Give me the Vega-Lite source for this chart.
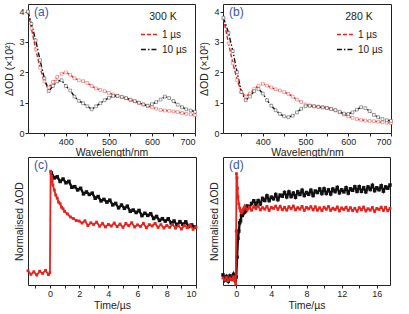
{
"$schema":"https://vega.github.io/schema/vega-lite/v6.json",
"padding":{"left":4,"top":3,"right":0,"bottom":0},
"columns":2,
"spacing":{"row":24,"column":27},
"bounds":"flush",
"resolve":{"scale":{"color":"independent","strokeDash":"independent","x":"independent","y":"independent"},"legend":{"color":"independent","strokeDash":"independent"}},
"config":{
 "font":"Liberation Sans",
 "view":{"stroke":"#222222","strokeWidth":1},
 "axis":{"grid":false,"domain":false,"tickColor":"#222222","tickSize":3,"labelFontSize":9,"labelColor":"#222222","labelPadding":1,"titleFontSize":10.5,"titleFontWeight":"normal","titleColor":"#222222"},
 "title":{"fontSize":12,"fontWeight":"normal","color":"#3a55a5","anchor":"start","frame":"group","offset":-15,"dx":6},
 "legend":{"titleFontSize":10.5,"titleFontWeight":"normal","titleColor":"#222222","titleAnchor":"middle","labelFontSize":10,"labelColor":"#222222","symbolType":"stroke","symbolSize":260,"symbolStrokeWidth":1.6,"rowPadding":1,"titlePadding":3,"padding":0,"orient":"top-right","offset":8}
},
"datasets":{
"spec":[
{"p":"a","s":"1 µs","w":312,"v":3.98},{"p":"a","s":"1 µs","w":320,"v":3.45},{"p":"a","s":"1 µs","w":330,"v":2.75},{"p":"a","s":"1 µs","w":340,"v":2.15},{"p":"a","s":"1 µs","w":350,"v":1.7},{"p":"a","s":"1 µs","w":360,"v":1.5},{"p":"a","s":"1 µs","w":370,"v":1.68},{"p":"a","s":"1 µs","w":380,"v":1.85},{"p":"a","s":"1 µs","w":390,"v":1.95},{"p":"a","s":"1 µs","w":400,"v":2.0},{"p":"a","s":"1 µs","w":410,"v":1.92},{"p":"a","s":"1 µs","w":420,"v":1.8},{"p":"a","s":"1 µs","w":430,"v":1.74},{"p":"a","s":"1 µs","w":440,"v":1.71},{"p":"a","s":"1 µs","w":450,"v":1.65},{"p":"a","s":"1 µs","w":460,"v":1.55},{"p":"a","s":"1 µs","w":470,"v":1.47},{"p":"a","s":"1 µs","w":480,"v":1.42},{"p":"a","s":"1 µs","w":490,"v":1.38},{"p":"a","s":"1 µs","w":500,"v":1.32},{"p":"a","s":"1 µs","w":510,"v":1.27},{"p":"a","s":"1 µs","w":520,"v":1.22},{"p":"a","s":"1 µs","w":530,"v":1.18},{"p":"a","s":"1 µs","w":540,"v":1.14},{"p":"a","s":"1 µs","w":550,"v":1.09},{"p":"a","s":"1 µs","w":560,"v":1.04},{"p":"a","s":"1 µs","w":570,"v":0.99},{"p":"a","s":"1 µs","w":580,"v":0.94},{"p":"a","s":"1 µs","w":590,"v":0.89},{"p":"a","s":"1 µs","w":600,"v":0.85},{"p":"a","s":"1 µs","w":610,"v":0.8},{"p":"a","s":"1 µs","w":620,"v":0.76},{"p":"a","s":"1 µs","w":630,"v":0.74},{"p":"a","s":"1 µs","w":640,"v":0.73},{"p":"a","s":"1 µs","w":650,"v":0.71},{"p":"a","s":"1 µs","w":660,"v":0.69},{"p":"a","s":"1 µs","w":670,"v":0.66},{"p":"a","s":"1 µs","w":680,"v":0.63},{"p":"a","s":"1 µs","w":690,"v":0.61},{"p":"a","s":"1 µs","w":700,"v":0.59},
{"p":"a","s":"10 µs","w":312,"v":4.0},{"p":"a","s":"10 µs","w":320,"v":3.6},{"p":"a","s":"10 µs","w":330,"v":3.05},{"p":"a","s":"10 µs","w":340,"v":2.4},{"p":"a","s":"10 µs","w":350,"v":1.8},{"p":"a","s":"10 µs","w":360,"v":1.38},{"p":"a","s":"10 µs","w":370,"v":1.55},{"p":"a","s":"10 µs","w":380,"v":1.7},{"p":"a","s":"10 µs","w":390,"v":1.74},{"p":"a","s":"10 µs","w":400,"v":1.55},{"p":"a","s":"10 µs","w":410,"v":1.4},{"p":"a","s":"10 µs","w":420,"v":1.2},{"p":"a","s":"10 µs","w":430,"v":1.06},{"p":"a","s":"10 µs","w":440,"v":0.98},{"p":"a","s":"10 µs","w":450,"v":0.88},{"p":"a","s":"10 µs","w":460,"v":0.78},{"p":"a","s":"10 µs","w":470,"v":0.88},{"p":"a","s":"10 µs","w":480,"v":0.98},{"p":"a","s":"10 µs","w":490,"v":1.08},{"p":"a","s":"10 µs","w":500,"v":1.16},{"p":"a","s":"10 µs","w":510,"v":1.22},{"p":"a","s":"10 µs","w":520,"v":1.22},{"p":"a","s":"10 µs","w":530,"v":1.19},{"p":"a","s":"10 µs","w":540,"v":1.15},{"p":"a","s":"10 µs","w":550,"v":1.1},{"p":"a","s":"10 µs","w":560,"v":1.05},{"p":"a","s":"10 µs","w":570,"v":1.0},{"p":"a","s":"10 µs","w":580,"v":0.94},{"p":"a","s":"10 µs","w":590,"v":0.9},{"p":"a","s":"10 µs","w":600,"v":0.95},{"p":"a","s":"10 µs","w":610,"v":1.02},{"p":"a","s":"10 µs","w":620,"v":1.1},{"p":"a","s":"10 µs","w":630,"v":1.2},{"p":"a","s":"10 µs","w":640,"v":1.15},{"p":"a","s":"10 µs","w":650,"v":1.05},{"p":"a","s":"10 µs","w":660,"v":0.93},{"p":"a","s":"10 µs","w":670,"v":0.85},{"p":"a","s":"10 µs","w":680,"v":0.78},{"p":"a","s":"10 µs","w":690,"v":0.74},{"p":"a","s":"10 µs","w":700,"v":0.7},
{"p":"b","s":"1 µs","w":308,"v":3.78},{"p":"b","s":"1 µs","w":320,"v":2.95},{"p":"b","s":"1 µs","w":330,"v":2.3},{"p":"b","s":"1 µs","w":340,"v":1.75},{"p":"b","s":"1 µs","w":350,"v":1.35},{"p":"b","s":"1 µs","w":360,"v":1.2},{"p":"b","s":"1 µs","w":370,"v":1.3},{"p":"b","s":"1 µs","w":380,"v":1.45},{"p":"b","s":"1 µs","w":390,"v":1.56},{"p":"b","s":"1 µs","w":400,"v":1.62},{"p":"b","s":"1 µs","w":410,"v":1.56},{"p":"b","s":"1 µs","w":420,"v":1.5},{"p":"b","s":"1 µs","w":430,"v":1.44},{"p":"b","s":"1 µs","w":440,"v":1.4},{"p":"b","s":"1 µs","w":450,"v":1.35},{"p":"b","s":"1 µs","w":460,"v":1.29},{"p":"b","s":"1 µs","w":470,"v":1.2},{"p":"b","s":"1 µs","w":480,"v":1.1},{"p":"b","s":"1 µs","w":490,"v":1.02},{"p":"b","s":"1 µs","w":500,"v":0.94},{"p":"b","s":"1 µs","w":510,"v":0.9},{"p":"b","s":"1 µs","w":520,"v":0.88},{"p":"b","s":"1 µs","w":530,"v":0.87},{"p":"b","s":"1 µs","w":540,"v":0.85},{"p":"b","s":"1 µs","w":550,"v":0.83},{"p":"b","s":"1 µs","w":560,"v":0.8},{"p":"b","s":"1 µs","w":570,"v":0.75},{"p":"b","s":"1 µs","w":580,"v":0.68},{"p":"b","s":"1 µs","w":590,"v":0.61},{"p":"b","s":"1 µs","w":600,"v":0.55},{"p":"b","s":"1 µs","w":610,"v":0.5},{"p":"b","s":"1 µs","w":620,"v":0.46},{"p":"b","s":"1 µs","w":630,"v":0.43},{"p":"b","s":"1 µs","w":640,"v":0.41},{"p":"b","s":"1 µs","w":650,"v":0.4},{"p":"b","s":"1 µs","w":660,"v":0.39},{"p":"b","s":"1 µs","w":670,"v":0.37},{"p":"b","s":"1 µs","w":680,"v":0.35},{"p":"b","s":"1 µs","w":690,"v":0.34},{"p":"b","s":"1 µs","w":700,"v":0.33},
{"p":"b","s":"10 µs","w":308,"v":3.8},{"p":"b","s":"10 µs","w":320,"v":3.3},{"p":"b","s":"10 µs","w":330,"v":2.7},{"p":"b","s":"10 µs","w":340,"v":2.0},{"p":"b","s":"10 µs","w":350,"v":1.35},{"p":"b","s":"10 µs","w":360,"v":1.08},{"p":"b","s":"10 µs","w":370,"v":1.2},{"p":"b","s":"10 µs","w":380,"v":1.38},{"p":"b","s":"10 µs","w":390,"v":1.45},{"p":"b","s":"10 µs","w":400,"v":1.3},{"p":"b","s":"10 µs","w":410,"v":1.08},{"p":"b","s":"10 µs","w":420,"v":0.9},{"p":"b","s":"10 µs","w":430,"v":0.75},{"p":"b","s":"10 µs","w":440,"v":0.63},{"p":"b","s":"10 µs","w":450,"v":0.55},{"p":"b","s":"10 µs","w":460,"v":0.52},{"p":"b","s":"10 µs","w":470,"v":0.57},{"p":"b","s":"10 µs","w":480,"v":0.68},{"p":"b","s":"10 µs","w":490,"v":0.8},{"p":"b","s":"10 µs","w":500,"v":0.88},{"p":"b","s":"10 µs","w":510,"v":0.9},{"p":"b","s":"10 µs","w":520,"v":0.88},{"p":"b","s":"10 µs","w":530,"v":0.86},{"p":"b","s":"10 µs","w":540,"v":0.84},{"p":"b","s":"10 µs","w":550,"v":0.82},{"p":"b","s":"10 µs","w":560,"v":0.79},{"p":"b","s":"10 µs","w":570,"v":0.75},{"p":"b","s":"10 µs","w":580,"v":0.7},{"p":"b","s":"10 µs","w":590,"v":0.64},{"p":"b","s":"10 µs","w":600,"v":0.63},{"p":"b","s":"10 µs","w":610,"v":0.68},{"p":"b","s":"10 µs","w":620,"v":0.77},{"p":"b","s":"10 µs","w":630,"v":0.85},{"p":"b","s":"10 µs","w":640,"v":0.82},{"p":"b","s":"10 µs","w":650,"v":0.72},{"p":"b","s":"10 µs","w":660,"v":0.6},{"p":"b","s":"10 µs","w":670,"v":0.52},{"p":"b","s":"10 µs","w":680,"v":0.46},{"p":"b","s":"10 µs","w":690,"v":0.42},{"p":"b","s":"10 µs","w":700,"v":0.4}
],
"kc":[
{"s":"k","t":0.1,"v":0.983},{"s":"k","t":0.3,"v":0.934},{"s":"k","t":0.5,"v":0.945},{"s":"k","t":0.7,"v":0.899},{"s":"k","t":0.9,"v":0.923},{"s":"k","t":1.1,"v":0.886},{"s":"k","t":1.3,"v":0.9},{"s":"k","t":1.5,"v":0.842},{"s":"k","t":1.7,"v":0.848},{"s":"k","t":1.9,"v":0.816},{"s":"k","t":2.1,"v":0.832},{"s":"k","t":2.3,"v":0.777},{"s":"k","t":2.5,"v":0.796},{"s":"k","t":2.7,"v":0.771},{"s":"k","t":2.9,"v":0.784},{"s":"k","t":3.1,"v":0.734},{"s":"k","t":3.3,"v":0.751},{"s":"k","t":3.5,"v":0.708},{"s":"k","t":3.7,"v":0.723},{"s":"k","t":3.9,"v":0.696},{"s":"k","t":4.1,"v":0.715},{"s":"k","t":4.3,"v":0.669},{"s":"k","t":4.5,"v":0.683},{"s":"k","t":4.7,"v":0.64},{"s":"k","t":4.9,"v":0.667},{"s":"k","t":5.1,"v":0.635},{"s":"k","t":5.3,"v":0.656},{"s":"k","t":5.5,"v":0.605},{"s":"k","t":5.7,"v":0.618},{"s":"k","t":5.9,"v":0.593},{"s":"k","t":6.1,"v":0.614},{"s":"k","t":6.3,"v":0.563},{"s":"k","t":6.5,"v":0.586},{"s":"k","t":6.7,"v":0.565},{"s":"k","t":6.9,"v":0.582},{"s":"k","t":7.1,"v":0.535},{"s":"k","t":7.3,"v":0.555},{"s":"k","t":7.5,"v":0.515},{"s":"k","t":7.7,"v":0.533},{"s":"k","t":7.9,"v":0.509},{"s":"k","t":8.1,"v":0.532},{"s":"k","t":8.3,"v":0.491},{"s":"k","t":8.5,"v":0.51},{"s":"k","t":8.7,"v":0.472},{"s":"k","t":8.9,"v":0.504},{"s":"k","t":9.1,"v":0.477},{"s":"k","t":9.3,"v":0.502},{"s":"k","t":9.5,"v":0.455},{"s":"k","t":9.7,"v":0.472},{"s":"k","t":9.9,"v":0.451},
{"s":"r","t":-1.5,"v":0.02},{"s":"r","t":-1.3,"v":-0.015},{"s":"r","t":-1.1,"v":0.01},{"s":"r","t":-0.9,"v":-0.022},{"s":"r","t":-0.7,"v":0.016},{"s":"r","t":-0.5,"v":-0.006},{"s":"r","t":-0.3,"v":0.024},{"s":"r","t":-0.1,"v":-0.018},{"s":"r","t":0.0,"v":0.0},{"s":"r","t":0.05,"v":1.0},{"s":"r","t":0.1,"v":0.95},{"s":"r","t":0.15,"v":0.905},{"s":"r","t":0.2,"v":0.865},{"s":"r","t":0.3,"v":0.815},{"s":"r","t":0.4,"v":0.765},{"s":"r","t":0.5,"v":0.735},{"s":"r","t":0.6,"v":0.695},{"s":"r","t":0.7,"v":0.68},{"s":"r","t":0.8,"v":0.645},{"s":"r","t":0.9,"v":0.63},{"s":"r","t":1.0,"v":0.605},{"s":"r","t":1.2,"v":0.58},{"s":"r","t":1.4,"v":0.55},{"s":"r","t":1.6,"v":0.535},{"s":"r","t":1.8,"v":0.515},{"s":"r","t":2.0,"v":0.51},{"s":"r","t":2.2,"v":0.49},{"s":"r","t":2.4,"v":0.512},{"s":"r","t":2.6,"v":0.465},{"s":"r","t":2.8,"v":0.492},{"s":"r","t":3.0,"v":0.476},{"s":"r","t":3.2,"v":0.499},{"s":"r","t":3.4,"v":0.459},{"s":"r","t":3.6,"v":0.485},{"s":"r","t":3.8,"v":0.452},{"s":"r","t":4.0,"v":0.477},{"s":"r","t":4.2,"v":0.46},{"s":"r","t":4.4,"v":0.49},{"s":"r","t":4.6,"v":0.455},{"s":"r","t":4.8,"v":0.48},{"s":"r","t":5.0,"v":0.448},{"s":"r","t":5.2,"v":0.486},{"s":"r","t":5.4,"v":0.463},{"s":"r","t":5.6,"v":0.493},{"s":"r","t":5.8,"v":0.451},{"s":"r","t":6.0,"v":0.472},{"s":"r","t":6.2,"v":0.456},{"s":"r","t":6.4,"v":0.486},{"s":"r","t":6.6,"v":0.443},{"s":"r","t":6.8,"v":0.474},{"s":"r","t":7.0,"v":0.461},{"s":"r","t":7.2,"v":0.486},{"s":"r","t":7.4,"v":0.447},{"s":"r","t":7.6,"v":0.474},{"s":"r","t":7.8,"v":0.441},{"s":"r","t":8.0,"v":0.466},{"s":"r","t":8.2,"v":0.448},{"s":"r","t":8.4,"v":0.476},{"s":"r","t":8.6,"v":0.44},{"s":"r","t":8.8,"v":0.464},{"s":"r","t":9.0,"v":0.431},{"s":"r","t":9.2,"v":0.467},{"s":"r","t":9.4,"v":0.444},{"s":"r","t":9.6,"v":0.472},{"s":"r","t":9.8,"v":0.428},{"s":"r","t":10.0,"v":0.449}
],
"kd":[
{"s":"k","t":-1.5,"v":0.03},{"s":"k","t":-1.3,"v":-0.02},{"s":"k","t":-1.1,"v":0.015},{"s":"k","t":-0.9,"v":-0.03},{"s":"k","t":-0.7,"v":0.02},{"s":"k","t":-0.5,"v":-0.01},{"s":"k","t":-0.3,"v":0.035},{"s":"k","t":-0.1,"v":-0.025},{"s":"k","t":0.0,"v":0.01},{"s":"k","t":0.1,"v":0.2},{"s":"k","t":0.2,"v":0.38},{"s":"k","t":0.3,"v":0.45},{"s":"k","t":0.4,"v":0.53},{"s":"k","t":0.5,"v":0.55},{"s":"k","t":0.6,"v":0.6},{"s":"k","t":0.7,"v":0.6},{"s":"k","t":0.8,"v":0.645},{"s":"k","t":0.9,"v":0.63},{"s":"k","t":1.0,"v":0.67},{"s":"k","t":1.1,"v":0.645},{"s":"k","t":1.25,"v":0.69},{"s":"k","t":1.5,"v":0.675},{"s":"k","t":1.75,"v":0.715},
{"s":"k","t":2.0,"v":0.74},{"s":"k","t":2.25,"v":0.703},{"s":"k","t":2.5,"v":0.742},{"s":"k","t":2.75,"v":0.71},{"s":"k","t":3.0,"v":0.763},{"s":"k","t":3.25,"v":0.743},{"s":"k","t":3.5,"v":0.788},{"s":"k","t":3.75,"v":0.742},{"s":"k","t":4.0,"v":0.775},{"s":"k","t":4.25,"v":0.759},{"s":"k","t":4.5,"v":0.8},{"s":"k","t":4.75,"v":0.751},{"s":"k","t":5.0,"v":0.795},{"s":"k","t":5.25,"v":0.784},{"s":"k","t":5.5,"v":0.82},{"s":"k","t":5.75,"v":0.778},{"s":"k","t":6.0,"v":0.825},{"s":"k","t":6.25,"v":0.781},{"s":"k","t":6.5,"v":0.814},{"s":"k","t":6.75,"v":0.775},{"s":"k","t":7.0,"v":0.826},{"s":"k","t":7.25,"v":0.801},{"s":"k","t":7.5,"v":0.841},{"s":"k","t":7.75,"v":0.791},{"s":"k","t":8.0,"v":0.82},{"s":"k","t":8.25,"v":0.802},{"s":"k","t":8.5,"v":0.841},{"s":"k","t":8.75,"v":0.791},{"s":"k","t":9.0,"v":0.833},{"s":"k","t":9.25,"v":0.819},{"s":"k","t":9.5,"v":0.853},{"s":"k","t":9.75,"v":0.81},{"s":"k","t":10.0,"v":0.855},{"s":"k","t":10.25,"v":0.811},{"s":"k","t":10.5,"v":0.845},{"s":"k","t":10.75,"v":0.806},{"s":"k","t":11.0,"v":0.853},{"s":"k","t":11.25,"v":0.828},{"s":"k","t":11.5,"v":0.868},{"s":"k","t":11.75,"v":0.817},{"s":"k","t":12.0,"v":0.845},{"s":"k","t":12.25,"v":0.826},{"s":"k","t":12.5,"v":0.865},{"s":"k","t":12.75,"v":0.814},{"s":"k","t":13.0,"v":0.855},{"s":"k","t":13.25,"v":0.841},{"s":"k","t":13.5,"v":0.875},{"s":"k","t":13.75,"v":0.831},{"s":"k","t":14.0,"v":0.875},{"s":"k","t":14.25,"v":0.831},{"s":"k","t":14.5,"v":0.865},{"s":"k","t":14.75,"v":0.826},{"s":"k","t":15.0,"v":0.873},{"s":"k","t":15.25,"v":0.848},{"s":"k","t":15.5,"v":0.888},{"s":"k","t":15.75,"v":0.837},{"s":"k","t":16.0,"v":0.865},{"s":"k","t":16.25,"v":0.846},{"s":"k","t":16.5,"v":0.884},{"s":"k","t":16.75,"v":0.833},{"s":"k","t":17.0,"v":0.874},{"s":"k","t":17.25,"v":0.86},{"s":"k","t":17.5,"v":0.892},
{"s":"r","t":-1.5,"v":0.0},{"s":"r","t":-1.3,"v":-0.02},{"s":"r","t":-1.1,"v":0.005},{"s":"r","t":-0.9,"v":-0.025},{"s":"r","t":-0.7,"v":0.0},{"s":"r","t":-0.5,"v":-0.015},{"s":"r","t":-0.3,"v":0.01},{"s":"r","t":-0.15,"v":-0.02},{"s":"r","t":-0.05,"v":-0.06},{"s":"r","t":0.0,"v":0.45},{"s":"r","t":0.03,"v":1.0},{"s":"r","t":0.1,"v":0.96},{"s":"r","t":0.15,"v":0.86},{"s":"r","t":0.2,"v":0.78},{"s":"r","t":0.3,"v":0.71},{"s":"r","t":0.4,"v":0.67},{"s":"r","t":0.5,"v":0.64},{"s":"r","t":0.6,"v":0.625},{"s":"r","t":0.7,"v":0.64},{"s":"r","t":0.8,"v":0.655},{"s":"r","t":0.9,"v":0.67},
{"s":"r","t":1.0,"v":0.688},{"s":"r","t":1.25,"v":0.655},{"s":"r","t":1.5,"v":0.678},{"s":"r","t":1.75,"v":0.65},{"s":"r","t":2.0,"v":0.684},{"s":"r","t":2.25,"v":0.664},{"s":"r","t":2.5,"v":0.69},{"s":"r","t":2.75,"v":0.653},{"s":"r","t":3.0,"v":0.674},{"s":"r","t":3.25,"v":0.66},{"s":"r","t":3.5,"v":0.686},{"s":"r","t":3.75,"v":0.648},{"s":"r","t":4.0,"v":0.677},{"s":"r","t":4.25,"v":0.667},{"s":"r","t":4.5,"v":0.689},{"s":"r","t":4.75,"v":0.658},{"s":"r","t":5.0,"v":0.688},{"s":"r","t":5.25,"v":0.655},{"s":"r","t":5.5,"v":0.678},{"s":"r","t":5.75,"v":0.65},{"s":"r","t":6.0,"v":0.684},{"s":"r","t":6.25,"v":0.664},{"s":"r","t":6.5,"v":0.69},{"s":"r","t":6.75,"v":0.653},{"s":"r","t":7.0,"v":0.674},{"s":"r","t":7.25,"v":0.66},{"s":"r","t":7.5,"v":0.686},{"s":"r","t":7.75,"v":0.648},{"s":"r","t":8.0,"v":0.677},{"s":"r","t":8.25,"v":0.662},{"s":"r","t":8.5,"v":0.684},{"s":"r","t":8.75,"v":0.653},{"s":"r","t":9.0,"v":0.683},{"s":"r","t":9.25,"v":0.65},{"s":"r","t":9.5,"v":0.673},{"s":"r","t":9.75,"v":0.645},{"s":"r","t":10.0,"v":0.679},{"s":"r","t":10.25,"v":0.659},{"s":"r","t":10.5,"v":0.685},{"s":"r","t":10.75,"v":0.648},{"s":"r","t":11.0,"v":0.669},{"s":"r","t":11.25,"v":0.655},{"s":"r","t":11.5,"v":0.681},{"s":"r","t":11.75,"v":0.643},{"s":"r","t":12.0,"v":0.672},{"s":"r","t":12.25,"v":0.657},{"s":"r","t":12.5,"v":0.679},{"s":"r","t":12.75,"v":0.648},{"s":"r","t":13.0,"v":0.674},{"s":"r","t":13.25,"v":0.645},{"s":"r","t":13.5,"v":0.668},{"s":"r","t":13.75,"v":0.64},{"s":"r","t":14.0,"v":0.674},{"s":"r","t":14.25,"v":0.654},{"s":"r","t":14.5,"v":0.68},{"s":"r","t":14.75,"v":0.643},{"s":"r","t":15.0,"v":0.664},{"s":"r","t":15.25,"v":0.65},{"s":"r","t":15.5,"v":0.676},{"s":"r","t":15.75,"v":0.638},{"s":"r","t":16.0,"v":0.667},{"s":"r","t":16.25,"v":0.657},{"s":"r","t":16.5,"v":0.679},{"s":"r","t":16.75,"v":0.648},{"s":"r","t":17.0,"v":0.678},{"s":"r","t":17.25,"v":0.645},{"s":"r","t":17.5,"v":0.668}
]
},
"concat":[
{
 "width":167,"height":129,
 "title":{"text":"(a)"},
 "data":{"name":"spec"},
 "transform":[{"filter":"datum.p=='a'"}],
 "encoding":{
  "x":{"field":"w","type":"quantitative","scale":{"domain":[312,700],"nice":false,"zero":false},"axis":{"values":[350,400,450,500,550,600,650,700],"labelExpr":"datum.value%100==0?datum.label:''","title":"Wavelength/nm","titlePadding":1}},
  "y":{"field":"v","type":"quantitative","scale":{"domain":[0,4.25],"nice":false},"axis":{"values":[0,1,2,3,4],"title":"ΔOD (×10²)","titlePadding":4}},
  "color":{"field":"s","type":"nominal","scale":{"domain":["1 µs","10 µs"],"range":["#e8221c","#111111"]},"legend":{"title":"300 K"}}
 },
 "layer":[
  {"mark":{"type":"line","strokeWidth":1.4},"encoding":{"strokeDash":{"field":"s","type":"nominal","scale":{"domain":["1 µs","10 µs"],"range":[[4,2],[5,2,1.5,2]]},"legend":{"title":"300 K"}}}},
  {"mark":{"type":"point","shape":"square","size":8,"strokeWidth":0.7,"fill":"white","opacity":1,"strokeOpacity":0.55}}
 ]
},
{
 "width":168,"height":129,
 "title":{"text":"(b)"},
 "data":{"name":"spec"},
 "transform":[{"filter":"datum.p=='b'"}],
 "encoding":{
  "x":{"field":"w","type":"quantitative","scale":{"domain":[307,700],"nice":false,"zero":false},"axis":{"values":[350,400,450,500,550,600,650,700],"labelExpr":"datum.value%100==0?datum.label:''","title":"Wavelength/nm","titlePadding":1}},
  "y":{"field":"v","type":"quantitative","scale":{"domain":[0,4.25],"nice":false},"axis":{"values":[0,1,2,3,4],"title":"ΔOD (×10²)","titlePadding":4}},
  "color":{"field":"s","type":"nominal","scale":{"domain":["1 µs","10 µs"],"range":["#e8221c","#111111"]},"legend":{"title":"280 K"}}
 },
 "layer":[
  {"mark":{"type":"line","strokeWidth":1.4},"encoding":{"strokeDash":{"field":"s","type":"nominal","scale":{"domain":["1 µs","10 µs"],"range":[[4,2],[5,2,1.5,2]]},"legend":{"title":"280 K"}}}},
  {"mark":{"type":"point","shape":"square","size":8,"strokeWidth":0.7,"fill":"white","opacity":1,"strokeOpacity":0.55}}
 ]
},
{
 "width":168,"height":128,
 "title":{"text":"(c)"},
 "data":{"name":"kc"},
 "encoding":{
  "x":{"field":"t","type":"quantitative","scale":{"domain":[-1.5,10],"nice":false,"zero":false},"axis":{"values":[-1,0,1,2,3,4,5,6,7,8,9,10],"labelExpr":"datum.value%2==0?datum.label:''","title":"Time/µs","titlePadding":2}},
  "y":{"field":"v","type":"quantitative","scale":{"domain":[-0.12,1.14],"nice":false},"axis":{"labels":false,"ticks":false,"title":"Normalised ΔOD","titlePadding":4}}
 },
 "layer":[
  {"transform":[{"filter":"datum.s=='k'"}],"mark":{"type":"line","color":"#111111","strokeWidth":2.4}},
  {"transform":[{"filter":"datum.s=='k'"}],"mark":{"type":"point","shape":"square","size":12,"filled":true,"color":"#111111","opacity":1}},
  {"transform":[{"filter":"datum.s=='r'"}],"mark":{"type":"line","color":"#e8221c","strokeWidth":1.8}},
  {"transform":[{"filter":"datum.s=='r'"}],"mark":{"type":"point","shape":"square","size":8,"filled":true,"color":"#e8221c","opacity":1}}
 ]
},
{
 "width":167,"height":128,
 "title":{"text":"(d)"},
 "data":{"name":"kd"},
 "encoding":{
  "x":{"field":"t","type":"quantitative","scale":{"domain":[-1.5,17.5],"nice":false,"zero":false},"axis":{"values":[0,2,4,6,8,10,12,14,16],"labelExpr":"datum.value%4==0?datum.label:''","title":"Time/µs","titlePadding":2}},
  "y":{"field":"v","type":"quantitative","scale":{"domain":[-0.067,1.16],"nice":false},"axis":{"labels":false,"ticks":false,"title":"Normalised ΔOD","titlePadding":4}}
 },
 "layer":[
  {"transform":[{"filter":"datum.s=='k'"}],"mark":{"type":"line","color":"#111111","strokeWidth":2.4}},
  {"transform":[{"filter":"datum.s=='k'"}],"mark":{"type":"point","shape":"square","size":12,"filled":true,"color":"#111111","opacity":1}},
  {"transform":[{"filter":"datum.s=='r'"}],"mark":{"type":"line","color":"#e8221c","strokeWidth":1.8}},
  {"transform":[{"filter":"datum.s=='r'"}],"mark":{"type":"point","shape":"square","size":8,"filled":true,"color":"#e8221c","opacity":1}}
 ]
}
]
}
